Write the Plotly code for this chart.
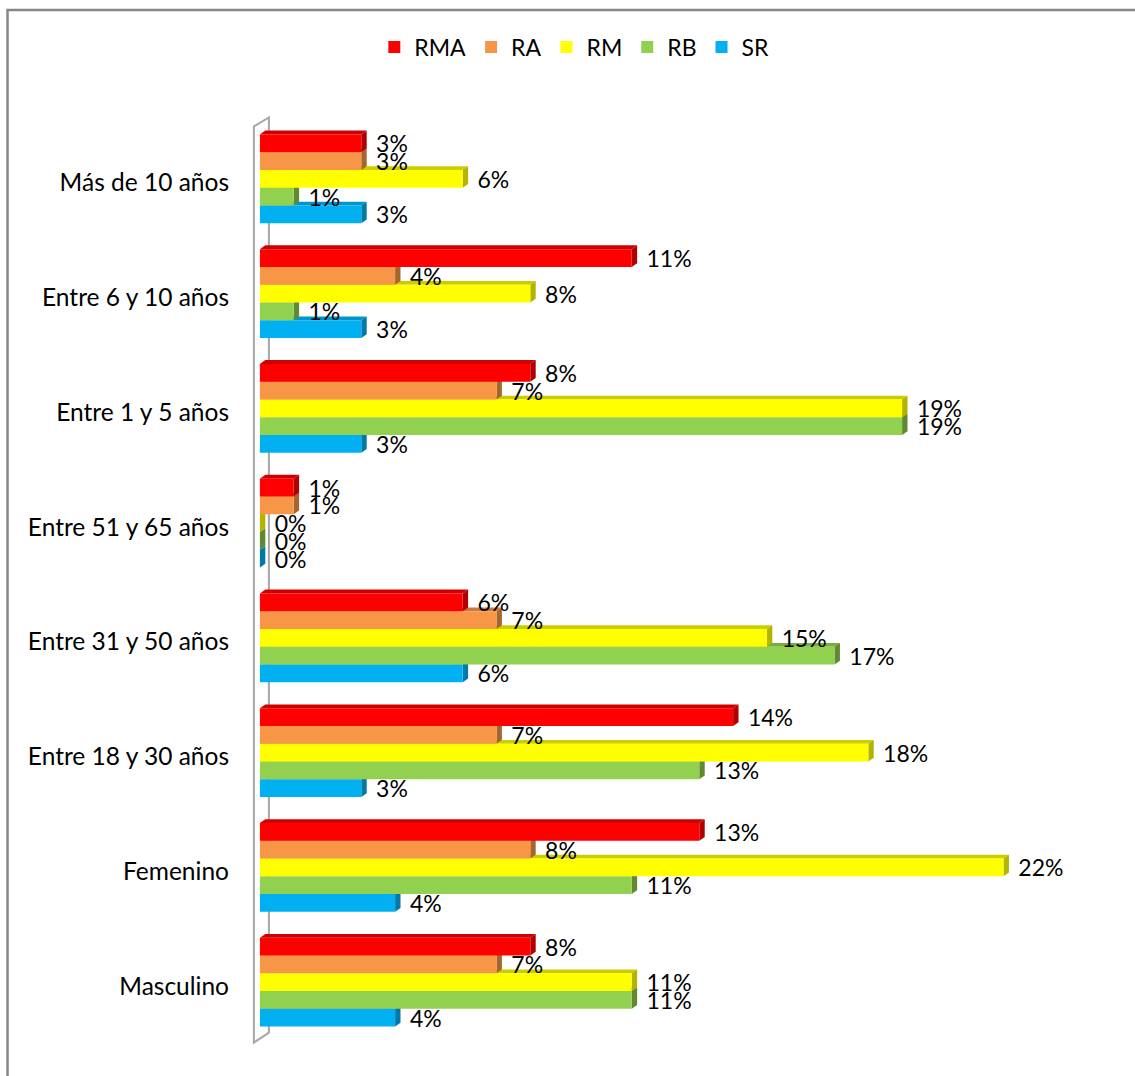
import plotly.graph_objects as go

# Categories, listed from the bottom of the chart to the top
categories = [
    "Masculino",
    "Femenino",
    "Entre 18 y 30 años",
    "Entre 31 y 50 años",
    "Entre 51 y 65 años",
    "Entre 1 y 5 años",
    "Entre 6 y 10 años",
    "Más de 10 años",
]

series_names = ["RMA", "RA", "RM", "RB", "SR"]

rma = [8, 13, 14, 6, 1, 8, 11, 3]
ra = [7, 8, 7, 7, 1, 7, 4, 3]
rm = [11, 22, 18, 15, 0, 19, 8, 6]
rb = [11, 11, 13, 17, 0, 19, 1, 1]
sr = [4, 4, 3, 6, 0, 3, 3, 3]

values = {"RMA": rma, "RA": ra, "RM": rm, "RB": rb, "SR": sr}

# Face colours: front, top and side of each pseudo-3D bar
front_col = {"RMA": "#FF0000", "RA": "#F79646", "RM": "#FFFF00", "RB": "#92D050", "SR": "#00B0F0"}
top_col = {"RMA": "#D00000", "RA": "#C97A3A", "RM": "#CCCC00", "RB": "#78AD42", "SR": "#0096CC"}
side_col = {"RMA": "#B00000", "RA": "#A8652B", "RM": "#B3B300", "RB": "#5F8A30", "SR": "#0078A8"}

W, H = 1135, 1076
M_L, M_R, M_T, M_B = 243, 0, 109.6, 24.6
X_RANGE = [-0.5, 25.89]
Y_RANGE = [-0.6, 7.6]
GROUP = 0.775
BAR_W = GROUP / len(series_names)
DX = 0.16   # depth of the bar side face, in x units
DY = 0.033  # depth of the bar top face, in category units

FONT = "Lato, 'Open Sans', sans-serif"
FS = 23
FS_CAT = 24.5

fig = go.Figure()
shapes = []

# SR sits at the bottom of each group, RMA at the top
for j, name in enumerate(reversed(series_names)):
    vals = values[name]
    off = -GROUP / 2 + j * BAR_W
    fig.add_trace(go.Bar(
        y=list(range(len(categories))),
        x=vals,
        orientation="h",
        name=name,
        width=BAR_W,
        offset=off,
        marker=dict(color=front_col[name], line=dict(width=0)),
        text=[f"\u00a0\u00a0{v}%" for v in vals],
        textposition="outside",
        textfont=dict(family=FONT, size=FS, color="#000000"),
        constraintext="none",
        cliponaxis=False,
        hoverinfo="skip",
    ))
    for c, v in enumerate(vals):
        b = c + off
        t = b + BAR_W
        shapes.append(dict(
            type="path", xref="x", yref="y", layer="below",
            path=f"M 0 {t} L {v} {t} L {v + DX} {t + DY} L {DX} {t + DY} Z",
            fillcolor=top_col[name], line=dict(width=0),
        ))
        shapes.append(dict(
            type="path", xref="x", yref="y", layer="below",
            path=f"M {v} {b} L {v + DX} {b + DY} L {v + DX} {t + DY} L {v} {t} Z",
            fillcolor=side_col[name], line=dict(width=0),
        ))

# Side wall of the 3D plot
wf, wb = -0.178, 0.266
shapes.insert(0, dict(
    type="path", xref="x", yref="y", layer="below",
    path=(f"M {wf} 7.457 L {wf} -0.527 L {wb} -0.44 L {wb} 7.535 Z"),
    line=dict(color="#A6A6A6", width=2), fillcolor="rgba(255,255,255,0)",
))

# Outer chart border
pw = W - M_L - M_R
ph = H - M_T - M_B
shapes.append(dict(
    type="rect", xref="paper", yref="paper", layer="above",
    x0=(7.5 - M_L) / pw, x1=(W + 20 - M_L) / pw,
    y0=(H - M_B - (H + 20)) / ph, y1=(H - M_B - 9.5) / ph,
    line=dict(color="#878787", width=2.5), fillcolor="rgba(0,0,0,0)",
))

fig.update_layout(
    width=W, height=H,
    margin=dict(l=M_L, r=M_R, t=M_T, b=M_B, pad=0),
    paper_bgcolor="white", plot_bgcolor="white",
    barmode="overlay",
    shapes=shapes,
    font=dict(family=FONT, size=FS, color="#000000"),
    showlegend=True,
    legend=dict(
        orientation="h", traceorder="reversed",
        xref="container", yref="container",
        x=0.506, y=1 - 47 / H, xanchor="center", yanchor="middle",
        font=dict(family=FONT, size=FS, color="#000000"),
        bgcolor="rgba(0,0,0,0)",
    ),
    xaxis=dict(range=X_RANGE, visible=False, fixedrange=True),
    yaxis=dict(
        range=Y_RANGE,
        tickmode="array",
        tickvals=list(range(len(categories))),
        ticktext=categories,
        showgrid=False, zeroline=False, showline=False,
        ticks="", ticklabelstandoff=13, ticklabelshift=4,
        automargin=False,
        tickfont=dict(family=FONT, size=FS_CAT, color="#000000"),
    ),
)

fig.write_html("out.html")
